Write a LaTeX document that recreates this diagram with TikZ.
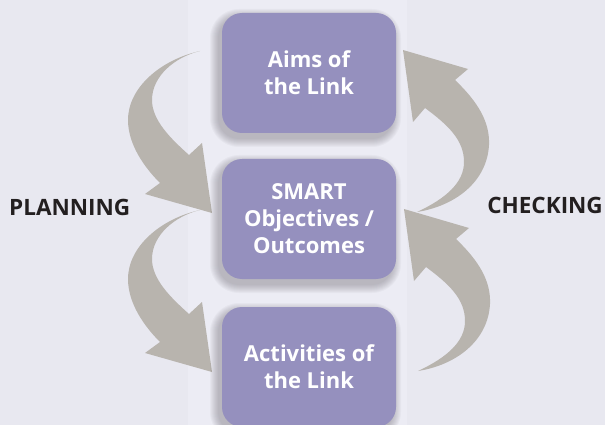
\documentclass[tikz,border=0pt]{standalone}
\usepackage{fontspec}
\setmainfont{Open Sans}
\definecolor{bgcol}{HTML}{E8E8F0}
\definecolor{stripcol}{HTML}{ECECF4}
\definecolor{boxcol}{HTML}{9590BE}
\definecolor{arrcol}{HTML}{B8B4AE}
\definecolor{labcol}{HTML}{231F20}
\definecolor{shadcol}{HTML}{5A5560}
\tikzset{
  stage/.style={draw=none, fill=boxcol, rounded corners=20pt, minimum width=174pt, minimum height=120pt,
    text=white, align=center, font=\fontsize{22}{27}\selectfont\bfseries},
  sidelabel/.style={text=labcol, font=\fontsize{22.5}{26}\selectfont\bfseries, inner sep=0pt},
  bigarrow/.style={fill=arrcol, draw=none},
  shadowlayer/.style={fill=shadcol, fill opacity=0.045, draw=none}
}
\newcommand{\boxshadow}[2]{% center x, center y
  \foreach \i in {1,...,9}{
    \fill[shadowlayer, rounded corners={20pt+\i pt}]
      ({#1-87-\i-3},{#2-60-\i+5}) rectangle ({#1+87+\i-4},{#2+60+\i+5});
  }}
\begin{document}
\begin{tikzpicture}[x=1pt,y=-1pt]
\fill[bgcol] (0,0) rectangle (605,425);
\fill[stripcol] (188,0) rectangle (407,425);
\useasboundingbox (0,0) rectangle (605,425);
% left arrows (planning)
\foreach \dy in {0,159}{
\begin{scope}[shift={(0,\dy)}]
\fill[bigarrow] (200,51) .. controls (160,60) and (128,88) .. (128,120)
  .. controls (128,145) and (145,168) .. (160,183)
  -- (145,194) -- (212,213) -- (202,143) -- (189,155)
  .. controls (170,138) and (152,120) .. (152,100)
  .. controls (152,76) and (175,57) .. (200,51) -- cycle;
\end{scope}}
% right arrows (checking)
\foreach \dy/\dx in {0/0,159/1}{
\begin{scope}[shift={(\dx,\dy)}]
\fill[bigarrow] (403,50) -- (468,69) -- (455,80)
  .. controls (478,102) and (490,122) .. (489,145)
  .. controls (487,182) and (455,206) .. (417,212)
  .. controls (447,198) and (464,182) .. (464,162)
  .. controls (464,140) and (448,125) .. (425,108)
  -- (413,122) -- cycle;
\end{scope}}
% shadows
\boxshadow{309}{73}
\boxshadow{309}{219}
\boxshadow{309}{367}
% boxes
\node[stage] (aims) at (309,73) {Aims of\\the Link};
\node[stage] (smart) at (309,219) {SMART\\Objectives /\\Outcomes};
\node[stage] (act) at (309,367) {Activities of\\the Link};
% labels
\node[sidelabel, anchor=west] (plan) at (9,207) {PLANNING};
\node[sidelabel, anchor=east] (check) at (603,205) {CHECKING};
\end{tikzpicture}
\end{document}
